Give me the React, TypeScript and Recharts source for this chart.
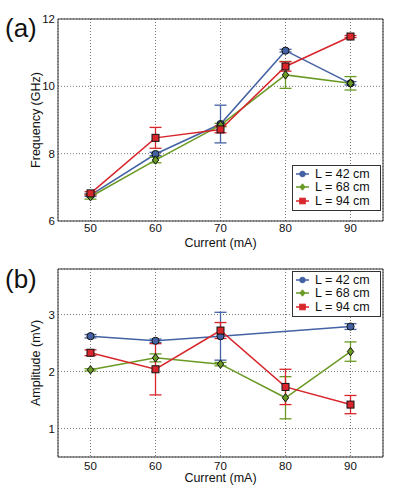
import { LineChart, Line, XAxis, YAxis, CartesianGrid, ErrorBar, ReferenceArea, Legend } from 'recharts';

const currents = [50, 60, 70, 80, 90];
const lengths = ['L = 42 cm', 'L = 68 cm', 'L = 94 cm'];

const freq42 = [6.77, 7.99, 8.88, 11.06, 10.09];
const freq42Err = [0.04, 0.05, 0.56, 0.04, 0.05];
const freq68 = [6.72, 7.81, 8.85, 10.34, 10.09];
const freq68Err = [0.07, 0.08, 0.05, 0.4, 0.2];
const freq94 = [6.82, 8.47, 8.72, 10.59, 11.48];
const freq94Err = [0.05, 0.31, 0.1, 0.14, 0.03];

const amp42 = [2.62, 2.54, 2.62, null, 2.79];
const amp42Err = [0.03, 0.03, 0.42, null, 0.05];
const amp68 = [2.03, 2.24, 2.13, 1.54, 2.35];
const amp68Err = [0.02, 0.07, 0.03, 0.37, 0.17];
const amp94 = [2.33, 2.04, 2.72, 1.73, 1.42];
const amp94Err = [0.05, 0.45, 0.14, 0.31, 0.16];

const BLUE = '#4462a3';
const GREEN = '#6a9a24';
const RED = '#d8262c';
const COLORS = [BLUE, GREEN, RED];
const SHAPES = ['circle', 'diamond', 'square'];
const FONT = '"Liberation Sans", Arial, sans-serif';

const freqData = currents.map((c, i) => ({
  c, a: freq42[i], ae: freq42Err[i], b: freq68[i], be: freq68Err[i], r: freq94[i], re: freq94Err[i],
}));
const ampData = currents.map((c, i) => ({
  c, a: amp42[i], ae: amp42Err[i], b: amp68[i], be: amp68Err[i], r: amp94[i], re: amp94Err[i],
}));

function Marker({ cx, cy, shape, color, edge }: any) {
  const stroke = edge ? '#111' : color;
  if (shape === 'circle') return <circle cx={cx} cy={cy} r={edge ? 3.6 : 2.8} fill={color} stroke={stroke} strokeWidth={1} />;
  if (shape === 'diamond') {
    const w = edge ? 3.2 : 2.6, h = edge ? 4.2 : 3.2;
    return <polygon points={`${cx},${cy - h} ${cx + w},${cy} ${cx},${cy + h} ${cx - w},${cy}`} fill={color} stroke={stroke} strokeWidth={1} />;
  }
  const s = edge ? 3.5 : 2.8;
  return <rect x={cx - s} y={cy - s} width={s * 2} height={s * 2} fill={color} stroke={stroke} strokeWidth={1} />;
}

const makeDot = (shape: string, color: string) => (props: any) => {
  const { cx, cy, index, value } = props;
  if (value == null || cy == null || isNaN(cy)) return <g key={`n-${index}`} />;
  return <Marker key={`d-${index}`} cx={cx} cy={cy} shape={shape} color={color} edge />;
};

function LegendBox() {
  return (
    <div style={{ border: '1px solid #333', background: '#fff', width: 87, padding: '1px 0 2px 0', fontFamily: FONT, fontSize: 12.5, color: '#111' }}>
      {lengths.map((name, i) => (
        <div key={name} style={{ display: 'flex', alignItems: 'center', height: 13.5 }}>
          <svg width={20} height={12} style={{ marginLeft: 1 }}>
            <line x1={2} x2={15} y1={6} y2={6} stroke={COLORS[i]} strokeWidth={1.5} />
            <Marker cx={8.5} cy={6} shape={SHAPES[i]} color={COLORS[i]} edge={false} />
          </svg>
          <span style={{ marginLeft: 1 }}>{name}</span>
        </div>
      ))}
    </div>
  );
}

const yLabel = (text: string) => (props: any) => {
  const vb = props.viewBox;
  const x = vb.x + 36;
  const y = vb.y + vb.height / 2;
  return (
    <text x={x} y={y} transform={`rotate(-90 ${x} ${y})`} textAnchor="middle" dominantBaseline="central" fontSize={12.5} fill="#111" fontFamily={FONT}>
      {text}
    </text>
  );
};

function Panel({ data, height, domain, ticks, yText, legendTop, xTickMargin, xHeight }: any) {
  const tick = { fontSize: 11.5, fill: '#111', fontFamily: FONT };
  const keys = [['a', 'ae'], ['b', 'be'], ['r', 're']];
  return (
    <LineChart width={398} height={height} data={data} margin={{ top: 19, right: 15, bottom: 0, left: 0 }}>
      <CartesianGrid stroke="#777" strokeDasharray="1 2" horizontal vertical />
      <XAxis dataKey="c" type="number" domain={[45, 95]} ticks={currents} tickLine={false} axisLine={false}
        tick={tick} tickSize={0} tickMargin={xTickMargin} height={xHeight} allowDataOverflow
        label={{ value: 'Current (mA)', position: 'insideBottom', offset: 3, fontSize: 12.5, fill: '#111', fontFamily: FONT }} />
      <YAxis type="number" domain={domain} ticks={ticks} tickLine={false} axisLine={false} tick={tick} tickSize={0} tickMargin={3}
        width={58} allowDataOverflow label={{ content: yLabel(yText) }} />
      <ReferenceArea x1={45} x2={95} y1={domain[0]} y2={domain[1]} fill="none" stroke="#333" strokeWidth={1} ifOverflow="visible" />
      {keys.map(([k, e], i) => (
        <Line key={k} dataKey={k} stroke={COLORS[i]} strokeWidth={1.5} isAnimationActive={false} connectNulls
          dot={makeDot(SHAPES[i], COLORS[i])} activeDot={false}>
          <ErrorBar dataKey={e} width={6} stroke={COLORS[i]} strokeWidth={1.3} direction="y" />
        </Line>
      ))}
      <Legend verticalAlign="middle" align="center" layout="horizontal" content={() => <LegendBox />}
        wrapperStyle={{ left: 292, top: legendTop, width: 89, height: 43 }} />
    </LineChart>
  );
}

export default function App() {
  return (
    <div style={{ position: 'absolute', left: 0, top: 0, width: 398, height: 485, background: '#fff' }}>
      <div style={{ position: 'absolute', left: 0, top: 0 }}>
        <Panel data={freqData} height={250} domain={[6, 12]} ticks={[6, 8, 10, 12]} yText="Frequency (GHz)"
          legendTop={165} xTickMargin={3} xHeight={29} />
      </div>
      <div style={{ position: 'absolute', left: 0, top: 250 }}>
        <Panel data={ampData} height={235} domain={[0.5, 3.8]} ticks={[1, 2, 3]} yText="Amplitude (mV)"
          legendTop={21} xTickMargin={5} xHeight={28} />
      </div>
      <div style={{ position: 'absolute', left: 5, top: 13, fontFamily: FONT, fontSize: 26, color: '#111' }}>(a)</div>
      <div style={{ position: 'absolute', left: 5, top: 264, fontFamily: FONT, fontSize: 26, color: '#111' }}>(b)</div>
    </div>
  );
}
